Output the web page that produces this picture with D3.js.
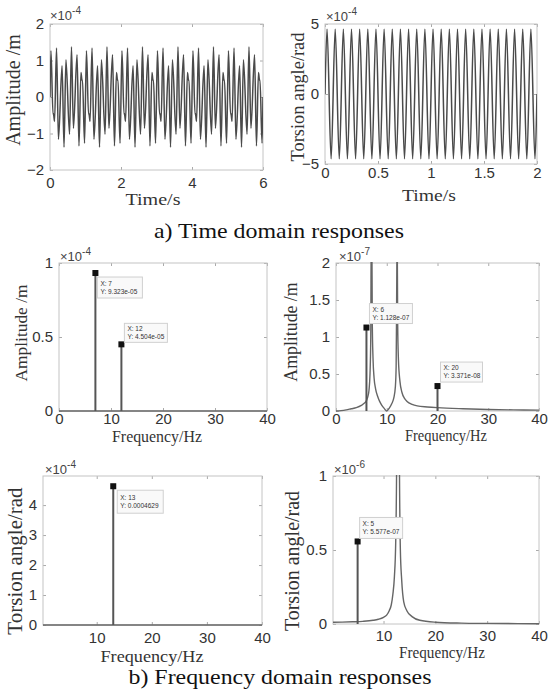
<!DOCTYPE html>
<html><head><meta charset="utf-8">
<script src="https://cdn.jsdelivr.net/npm/d3@7"></script>
<style>body{margin:0;background:#fff}svg{display:block}</style>
</head><body>
<svg id="c" width="548" height="699"></svg>
<script>
// ---------------- DATA ----------------
// a) time domain, lateral amplitude (x1e-4 m): extrema
const timeT1 = [0,
0.027,0.085,0.097,0.128,0.184,0.238,0.340,0.395,0.449,0.551,0.605,0.660,0.762,0.816,0.872,0.903,0.915,0.973,
1.027,1.085,1.097,1.128,1.184,1.238,1.340,1.395,1.449,1.551,1.605,1.660,1.762,1.816,1.872,1.903,1.915,1.973,
2.027,2.085,2.097,2.128,2.184,2.238,2.340,2.395,2.449,2.551,2.605,2.660,2.762,2.816,2.872,2.903,2.915,2.973,
3.027,3.085,3.097,3.128,3.184,3.238,3.340,3.395,3.449,3.551,3.605,3.660,3.762,3.816,3.872,3.903,3.915,3.973,
4.027,4.085,4.097,4.128,4.184,4.238,4.340,4.395,4.449,4.551,4.605,4.660,4.762,4.816,4.872,4.903,4.915,4.973,
5.027,5.085,5.097,5.128,5.184,5.238,5.340,5.395,5.449,5.551,5.605,5.660,5.762,5.816,5.872,5.903,5.915,5.973,
6];
const timeAmp1 = [0,
1.267,-0.468,-0.455,-0.668,1.341,-1.160,0.855,-1.378,1.021,-1.021,1.378,-0.855,1.160,-1.341,0.668,0.455,0.468,-1.267,
1.267,-0.468,-0.455,-0.668,1.341,-1.160,0.855,-1.378,1.021,-1.021,1.378,-0.855,1.160,-1.341,0.668,0.455,0.468,-1.267,
1.267,-0.468,-0.455,-0.668,1.341,-1.160,0.855,-1.378,1.021,-1.021,1.378,-0.855,1.160,-1.341,0.668,0.455,0.468,-1.267,
1.267,-0.468,-0.455,-0.668,1.341,-1.160,0.855,-1.378,1.021,-1.021,1.378,-0.855,1.160,-1.341,0.668,0.455,0.468,-1.267,
1.267,-0.468,-0.455,-0.668,1.341,-1.160,0.855,-1.378,1.021,-1.021,1.378,-0.855,1.160,-1.341,0.668,0.455,0.468,-1.267,
1.267,-0.468,-0.455,-0.668,1.341,-1.160,0.855,-1.378,1.021,-1.021,1.378,-0.855,1.160,-1.341,0.668,0.455,0.468,-1.267,
0];
// a) time domain, torsion angle (x1e-4 rad): extrema
const timeT2 = [0,
0.0192,0.0577,0.0962,0.1346,0.1731,0.2115,0.2500,0.2885,0.3269,0.3654,0.4038,0.4423,0.4808,
0.5192,0.5577,0.5962,0.6346,0.6731,0.7115,0.7500,0.7885,0.8269,0.8654,0.9038,0.9423,0.9808,
1.0192,1.0577,1.0962,1.1346,1.1731,1.2115,1.2500,1.2885,1.3269,1.3654,1.4038,1.4423,1.4808,
1.5192,1.5577,1.5962,1.6346,1.6731,1.7115,1.7500,1.7885,1.8269,1.8654,1.9038,1.9423,1.9808,
2];
const timeAng2 = [0,
4.63,-4.63,4.63,-4.63,4.63,-4.63,4.63,-4.63,4.63,-4.63,4.63,-4.63,4.63,
-4.63,4.63,-4.63,4.63,-4.63,4.63,-4.63,4.63,-4.63,4.63,-4.63,4.63,-4.63,
4.63,-4.63,4.63,-4.63,4.63,-4.63,4.63,-4.63,4.63,-4.63,4.63,-4.63,4.63,
-4.63,4.63,-4.63,4.63,-4.63,4.63,-4.63,4.63,-4.63,4.63,-4.63,4.63,-4.63,
0];

// b) frequency domain — spectral lines (stems) with data tips
const stemFreq3 = [7, 12];
const stemAmp3  = [9.323e-5, 4.504e-5];
const stemFreq4 = [6, 20];
const stemAmp4  = [1.128e-7, 3.371e-8];
const stemFreq5 = [13];
const stemAng5  = [4.629e-4];
const stemFreq6 = [5];
const stemAng6  = [5.577e-7];

// b) frequency response curves (read off the picture)
const curveF4 = [0,1,2,3,4,5,5.5,6,6.3,6.5,6.7,6.85,6.95,7.05,7.15,7.3,7.5,7.8,8.2,8.6,9,9.5,10,10.5,11,11.4,11.7,11.85,11.95,12.05,12.15,12.3,12.6,13,13.5,14,15,16,18,20,25,30,35,40];
const curveA4 = [0,0.005,0.015,0.03,0.045,0.075,0.1,0.14,0.2,0.28,0.5,1.0,2.5,2.5,1.2,0.7,0.45,0.3,0.2,0.13,0.08,0.035,0,0.04,0.1,0.18,0.33,0.6,1.5,2.5,1.2,0.7,0.4,0.25,0.17,0.13,0.09,0.07,0.055,0.045,0.03,0.02,0.015,0.012]; // x1e-7 m
const curveF6 = [0.25,2,4,6,8,9,10,10.6,11.1,11.5,11.8,12.1,12.35,12.55,12.8,13.05,13.25,13.5,13.9,14.5,15.5,17,20,25,30,40];
const curveA6 = [0.012,0.013,0.015,0.018,0.025,0.032,0.045,0.06,0.09,0.13,0.2,0.32,0.55,1.2,5,1.2,0.5,0.3,0.15,0.09,0.05,0.025,0.012,0.006,0.004,0.002]; // x1e-6 rad

// tick values (in displayed units)
const xTicks1 = [0,2,4,6], yTicks1 = [-2,-1,0,1,2];
const xTicks2 = [0,0.5,1,1.5,2], yTicks2 = [-5,0,5];
const xTicks3 = [0,10,20,30,40], yTicks3 = [0,0.5,1];
const xTicks4 = [0,10,20,30,40], yTicks4 = [0,0.5,1,1.5,2];
const xTicks5 = [10,20,30,40], yTicks5 = [0,1,2,3,4];
const xTicks6 = [10,20,30,40], yTicks6 = [0,0.5,1];

const captionA = "a) Time domain responses";
const captionB = "b) Frequency domain responses";

// ---------------- DRAW ----------------
const svg = d3.select('#c');
const SANS = '"Liberation Sans", Arial, Helvetica, sans-serif';
const SERIF = '"Liberation Serif", "Times New Roman", Times, serif';
const BOX = '#c4c4c4', LINE = '#555';

function fmtTip(v){ // MATLAB %.4g style
  const e = Math.floor(Math.log10(Math.abs(v)));
  if (e < -4 || e >= 4){
    let s = v.toExponential(3);
    return s.replace(/e([+-])(\d)$/, 'e$10$2');
  }
  return (+v.toPrecision(4)).toString();
}

function panel(c){
  const x = d3.scaleLinear().domain(c.xd).range([c.l, c.r]);
  const y = d3.scaleLinear().domain(c.yd).range([c.b, c.t]);
  const g = svg.append('g');
  const clipId = 'clip' + c.id;
  svg.append('clipPath').attr('id', clipId).append('rect')
     .attr('x', c.l).attr('y', c.t - 1).attr('width', c.r - c.l).attr('height', c.b - c.t + 2);

  const fs = c.tfs || 15;
  const ax = [
    [d3.axisBottom(x).tickValues(c.xt).tickFormat(d3.format('~g')).tickSizeInner(-3).tickSizeOuter(0).tickPadding(c.xoff - 0.71*fs), c.b, 0],
    [d3.axisTop(x).tickValues(c.xt).tickFormat('').tickSizeInner(-3).tickSizeOuter(0), c.t, 0],
    [d3.axisLeft(y).tickValues(c.yt).tickFormat(d3.format('~g')).tickSizeInner(-3).tickSizeOuter(0).tickPadding(c.ypad || 6), 0, c.l],
    [d3.axisRight(y).tickValues(c.yt).tickFormat('').tickSizeInner(-3).tickSizeOuter(0), 0, c.r]
  ];
  ax.forEach(([a, ty, tx]) => {
    const ag = g.append('g').attr('transform', `translate(${tx},${ty})`).call(a);
    ag.select('.domain').remove();
    ag.selectAll('line').attr('stroke', '#aaa');
    ag.selectAll('text').style('font-family', SANS).attr('font-size', fs).attr('fill', '#333');
  });
  g.append('rect').attr('x', c.l).attr('y', c.t).attr('width', c.r - c.l).attr('height', c.b - c.t)
   .attr('fill', 'none').attr('stroke', BOX).attr('stroke-width', 1);

  const et = g.append('text').attr('x', c.ex).attr('y', c.ey)
     .style('font-family', SANS).attr('font-size', 13).attr('fill', '#444');
  et.append('tspan').text('\u00d710');
  et.append('tspan').attr('font-size', 10).attr('dy', -6).text(c.exp);

  g.append('text').attr('x', c.xlx).attr('y', c.xly).attr('text-anchor', 'middle')
   .style('font-family', SERIF).attr('font-size', c.xlfs).attr('fill', '#333')
   .attr('textLength', c.xlw).attr('lengthAdjust', 'spacingAndGlyphs').text(c.xl);
  g.append('text').attr('transform', `translate(${c.ylx},${c.yly}) rotate(-90)`).attr('text-anchor', 'middle')
   .style('font-family', SERIF).attr('font-size', c.ylfs).attr('fill', '#333').text(c.yl);

  const plot = g.append('g').attr('clip-path', `url(#${clipId})`);

  if (c.series){
    const pts = c.series[0].map((t, i) => [t, c.series[1][i]]);
    plot.append('path').datum(pts)
      .attr('d', d3.line().x(d => x(d[0])).y(d => y(d[1])).curve(d3.curveMonotoneX))
      .attr('fill', 'none').attr('stroke', c.lineColor || '#4a4a4a').attr('stroke-width', c.lw || 1.5);
  }
  if (c.baseline){
    plot.append('line').attr('x1', c.l).attr('x2', c.r).attr('y1', y(0)).attr('y2', y(0))
      .attr('stroke', '#666').attr('stroke-width', 1.6);
  }
  if (c.stems){
    const [sf, sv] = c.stems;
    const s = sf.map((f, i) => [f, sv[i] / c.unit]);
    plot.selectAll(null).data(s).join('line')
      .attr('x1', d => x(d[0])).attr('x2', d => x(d[0]))
      .attr('y1', y(0)).attr('y2', d => y(d[1]))
      .attr('stroke', LINE).attr('stroke-width', 2);
    g.selectAll(null).data(s).join('rect')
      .attr('x', d => x(d[0]) - 3).attr('y', d => y(d[1]) - 3).attr('width', 6).attr('height', 6)
      .attr('fill', '#111');
    sf.forEach((f, i) => {
      const px = x(f), py = y(sv[i] / c.unit), tip = c.tips[i];
      const tg = g.append('g').attr('transform', `translate(${px + tip[0]},${py + tip[1]})`);
      tg.append('rect').attr('width', tip[2]).attr('height', tip[3])
        .attr('fill', '#f9f9f9').attr('stroke', '#d0d0d0').attr('stroke-width', 1);
      tg.append('text').attr('x', 3).attr('y', tip[3] / 2 - 2).style('font-family', SANS).attr('font-size', 6.5)
        .attr('fill', '#333').text('X: ' + f);
      tg.append('text').attr('x', 3).attr('y', tip[3] / 2 + 6).style('font-family', SANS).attr('font-size', 6.5)
        .attr('fill', '#333').text('Y: ' + fmtTip(sv[i]));
    });
  }
}

panel({id:1, l:50, r:263, t:24, b:170, xd:[0,6], xt:xTicks1, yd:[-2,2], yt:yTicks1, xoff:18,
  exp:'-4', ex:50, ey:20, xl:'Time/s', xlx:153, xly:205, xlfs:17, xlw:55,
  yl:'Amplitude /m', ylx:20, yly:90, ylfs:20, series:[timeT1, timeAmp1], lw:1.5});
panel({id:2, l:325, r:537, t:24, b:164, xd:[0,2], xt:xTicks2, yd:[-5,5], yt:yTicks2, xoff:14,
  exp:'-4', ex:326, ey:21, xl:'Time/s', xlx:429, xly:201, xlfs:17, xlw:54,
  yl:'Torsion angle/rad', ylx:304, yly:97, ylfs:18.4, series:[timeT2, timeAng2], lw:1.5});
panel({id:3, l:59, r:267, t:263, b:411, xd:[0,40], xt:xTicks3, yd:[0,1], yt:yTicks3, xoff:13,
  exp:'-4', ex:60, ey:261, xl:'Frequency/Hz', xlx:157, xly:442, xlfs:16.5, xlw:90,
  yl:'Amplitude /m', ylx:27, yly:333, ylfs:17.4, baseline:true,
  stems:[stemFreq3, stemAmp3], unit:1e-4, tips:[[2,4,45,21],[3,-21,43,19]]});
panel({id:4, l:336, r:539, t:263, b:411, xd:[0,40], xt:xTicks4, yd:[0,2], yt:yTicks4, xoff:13,
  exp:'-7', ex:339, ey:261, xl:'Frequency/Hz', xlx:446, xly:441, xlfs:16, xlw:82,
  yl:'Amplitude /m', ylx:297, yly:332, ylfs:17.8, series:[curveF4, curveA4], lineColor:'#666', lw:1.4,
  stems:[stemFreq4, stemAmp4], unit:1e-7, tips:[[3,-24,43,20],[3,-24,42,20]]});
panel({id:5, l:43, r:262, t:476, b:625, xd:[0.25,40], xt:xTicks5, yd:[0,4.97], yt:yTicks5, xoff:18,
  exp:'-4', ex:45, ey:474, xl:'Frequency/Hz', xlx:152, xly:662, xlfs:17, xlw:103,
  yl:'Torsion angle/rad', ylx:22, yly:561, ylfs:21, baseline:true,
  stems:[stemFreq5, stemAng5], unit:1e-4, tips:[[4,4,46,23]]});
panel({id:6, l:333, r:539, t:476, b:624, xd:[0.25,40], xt:xTicks6, yd:[0,1], yt:yTicks6, xoff:17,
  exp:'-6', ex:334, ey:474, xl:'Frequency/Hz', xlx:442, xly:658, xlfs:17, xlw:86,
  yl:'Torsion angle/rad', ylx:299, yly:561, ylfs:20, series:[curveF6, curveA6], lineColor:'#666', lw:1.4,
  stems:[stemFreq6, stemAng6], unit:1e-6, tips:[[2,-24,43,21]]});

svg.append('text').attr('x', 279).attr('y', 238).attr('text-anchor', 'middle')
  .style('font-family', SERIF).attr('font-size', 21).attr('fill', '#111')
  .attr('textLength', 250).attr('lengthAdjust', 'spacingAndGlyphs').text(captionA);
svg.append('text').attr('x', 280).attr('y', 684).attr('text-anchor', 'middle')
  .style('font-family', SERIF).attr('font-size', 21).attr('fill', '#111')
  .attr('textLength', 303).attr('lengthAdjust', 'spacingAndGlyphs').text(captionB);
</script>
</body></html>
